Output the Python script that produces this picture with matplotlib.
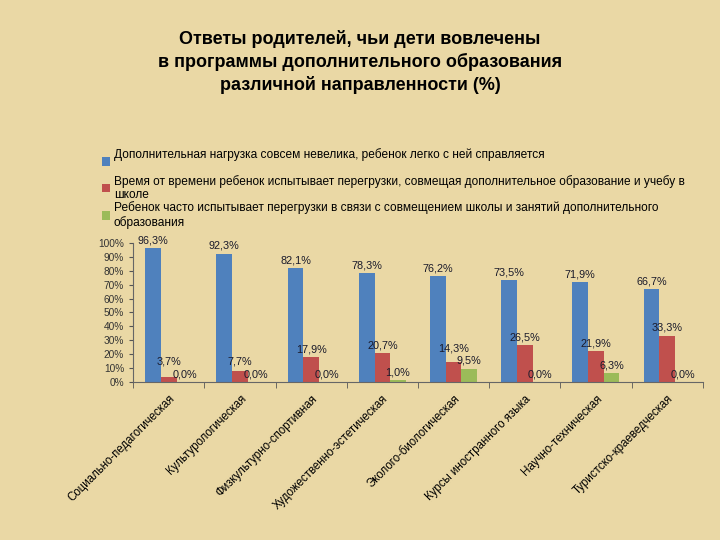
import numpy as np
import matplotlib
matplotlib.use('Agg')
import matplotlib.pyplot as plt
from matplotlib.ticker import FixedLocator

categories = ['Социально-педагогическая', 'Культурологическая', 'Физкультурно-спортивная',
              'Художественно-эстетическая', 'Эколого-биологическая', 'Курсы иностранного языка',
              'Научно-техническая', 'Туристско-краеведческая']
easy = [96.3, 92.3, 82.1, 78.3, 76.2, 73.5, 71.9, 66.7]
sometimes = [3.7, 7.7, 17.9, 20.7, 14.3, 26.5, 21.9, 33.3]
often = [0.0, 0.0, 0.0, 1.0, 9.5, 0.0, 6.3, 0.0]
series_labels = ['Дополнительная нагрузка совсем невелика, ребенок легко с ней справляется\n',
                 'Время от времени ребенок испытывает перегрузки, совмещая дополнительное образование и учебу в\nшколе',
                 'Ребенок часто испытывает перегрузки в связи с совмещением школы и занятий дополнительного\nобразования']
yticks = [0, 10, 20, 30, 40, 50, 60, 70, 80, 90, 100]

colors = ['#4F81BD', '#C0504D', '#9BBB59']
bg = '#EAD8A5'
plt.rcParams['font.family'] = ['Liberation Sans', 'DejaVu Sans']

fig = plt.figure(figsize=(7.2, 5.4), dpi=100, facecolor=bg)
ax = fig.add_axes([0.185, 0.293, 0.791, 0.257])
ax.set_facecolor('none')

x = np.arange(len(categories))
w = 0.22
all_series = [easy, sometimes, often]
handles = []
lab_h = 8.5  # approx label height in data units
for i, vals in enumerate(all_series):
    bars = ax.bar(x + (i - 1) * w, vals, width=w, color=colors[i], label=series_labels[i])
    handles.append(bars)
    for j, (xi, v) in enumerate(zip(x + (i - 1) * w, vals)):
        y = v + 2
        if i == 1:
            # keep red label clear of the green one next to it
            y = max(y, often[j] + 2 + lab_h + 0.5)
        ax.text(xi, y, ('%.1f%%' % v).replace('.', ','), ha='center', va='bottom',
                fontsize=7.8, color='#1a1a2a')

ax.set_xlim(-0.5, len(categories) - 0.5)
ax.set_ylim(0, 100)
ax.set_yticks(yticks)
ax.set_yticklabels(['%d%%' % t for t in yticks], fontsize=7.3, color='#333333')
ax.set_xticks(x)
ax.set_xticklabels(categories, rotation=45, ha='right', rotation_mode='anchor', fontsize=8.3)
ax.tick_params(axis='x', length=0, pad=8)
ax.xaxis.set_minor_locator(FixedLocator(np.arange(-0.5, len(categories), 1.0)))
ax.tick_params(axis='x', which='minor', length=4, color='#555555')
ax.tick_params(axis='y', length=3, color='#555555')
for s in ['top', 'right']:
    ax.spines[s].set_visible(False)
for s in ['left', 'bottom']:
    ax.spines[s].set_color('#666666')

fig.legend(handles=handles, labels=series_labels, loc='upper left',
           bbox_to_anchor=(0.135, 0.735), frameon=False, fontsize=8.6,
           handlelength=0.7, handleheight=0.7, handletextpad=0.3, labelspacing=0.0,
           borderaxespad=0)

fig.text(0.5, 0.945, 'Ответы родителей, чьи дети вовлечены\nв программы дополнительного образования\nразличной направленности (%)',
         ha='center', va='top', fontsize=13, fontweight='bold', linespacing=1.35,
         family=['Liberation Sans Narrow', 'Liberation Sans', 'DejaVu Sans'])

fig.savefig('out.png', dpi=100, facecolor=bg)
